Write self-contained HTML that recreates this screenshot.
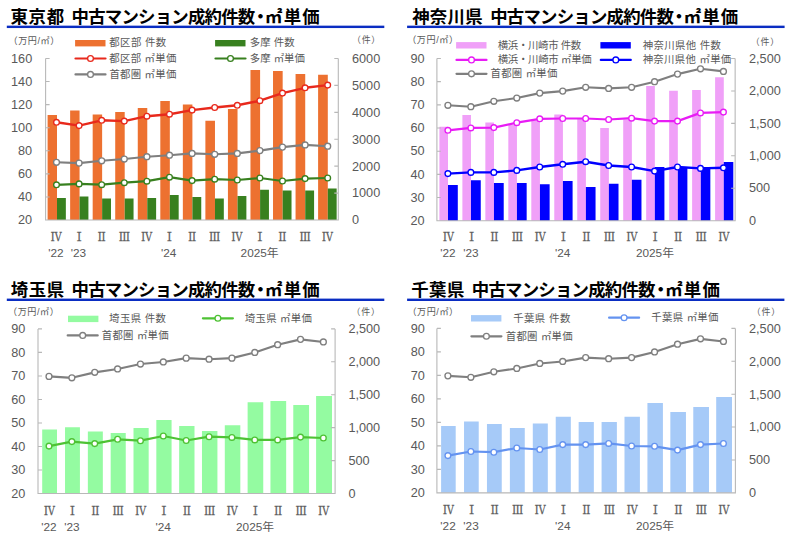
<!DOCTYPE html>
<html lang="ja"><head><meta charset="utf-8"><title>中古マンション成約件数・㎡単価</title><style>html,body{margin:0;padding:0;background:#fff;font-family:"Liberation Sans",sans-serif}svg{display:block}svg text{font-family:"Liberation Sans","Noto Sans CJK JP",sans-serif}svg .rn text{font-family:"Liberation Serif","Noto Serif CJK SC",serif}</style></head><body><svg role="img" aria-label="中古マンション成約件数・㎡単価 (東京都・神奈川県・埼玉県・千葉県)" width="790" height="541" viewBox="0 0 790 541"><desc>東京都 / 神奈川県 / 埼玉県 / 千葉県 中古マンション成約件数・㎡単価 （万円/㎡）（件） 2022-2025年</desc>
<g fill="#000" font-size="17.4" font-weight="bold">
<text x="10.52" y="23.05" textLength="53.6">東京都</text>
<text x="71.58" y="23.05" textLength="183.7">中古マンション成約件数</text>
<text x="251.7" y="23.05">・</text>
<text x="265.05" y="23.05" textLength="54.6">㎡単価</text>
</g>
<rect x="6.8" y="25.65" width="377.5" height="2.4" fill="#0a2dc2"/>
<g fill="#000" font-size="17.4" font-weight="bold">
<text x="412.13" y="23.05" textLength="70.6">神奈川県</text>
<text x="490.18" y="23.05" textLength="183.7">中古マンション成約件数</text>
<text x="670.3" y="23.05">・</text>
<text x="683.65" y="23.05" textLength="54.6">㎡単価</text>
</g>
<rect x="407.1" y="25.65" width="377.5" height="2.4" fill="#0a2dc2"/>
<g fill="#000" font-size="17.4" font-weight="bold">
<text x="10.65" y="296.05" textLength="53.5">埼玉県</text>
<text x="71.58" y="296.05" textLength="183.7">中古マンション成約件数</text>
<text x="251.7" y="296.05">・</text>
<text x="265.05" y="296.05" textLength="54.6">㎡単価</text>
</g>
<rect x="6.8" y="298.6" width="377.5" height="2.4" fill="#0a2dc2"/>
<g fill="#000" font-size="17.4" font-weight="bold">
<text x="411.17" y="296.05" textLength="53.2">千葉県</text>
<text x="471.78" y="296.05" textLength="183.7">中古マンション成約件数</text>
<text x="651.9" y="296.05">・</text>
<text x="665.25" y="296.05" textLength="54.6">㎡単価</text>
</g>
<rect x="407.1" y="298.6" width="377.3" height="2.4" fill="#0a2dc2"/>
<path d="M47.6 220H57V115.1H47.6ZM70.14 220H79.57V110.6H70.14ZM92.68 220H102.13V114.4H92.68ZM115.22 220H124.7V112.1H115.22ZM137.77 220H147.27V108H137.77ZM160.31 220H169.83V101H160.31ZM182.85 220H192.4V104.4H182.85ZM205.39 220H214.97V120.8H205.39ZM227.93 220H237.53V108.9H227.93ZM250.47 220H260.1V69.9H250.47ZM273.02 220H282.67V71.1H273.02ZM295.56 220H305.23V74H295.56ZM318.1 220H327.8V74.7H318.1Z" fill="#ed7130"/>
<path d="M57 220H65.85V197.9H57ZM79.57 220H88.42V196.5H79.57ZM102.13 220H110.98V198.5H102.13ZM124.7 220H133.55V198.6H124.7ZM147.27 220H156.12V197.9H147.27ZM169.83 220H178.68V195.1H169.83ZM192.4 220H201.25V197.1H192.4ZM214.97 220H223.82V198.6H214.97ZM237.53 220H246.38V195.9H237.53ZM260.1 220H268.95V189.8H260.1ZM282.67 220H291.52V190.6H282.67ZM305.23 220H314.08V190.6H305.23ZM327.8 220H336.65V188.6H327.8Z" fill="#38801f"/>
<path d="M45.6 58.5V220H338.3V58.5M45.6 196.93h4M45.6 173.86h4M45.6 150.79h4M45.6 127.71h4M45.6 104.64h4M45.6 81.57h4M45.6 58.5h4M338.3 193.08h-4M338.3 166.17h-4M338.3 139.25h-4M338.3 112.33h-4M338.3 85.42h-4M338.3 58.5h-4" fill="none" stroke="#b8b8b8" stroke-width="1.1"/>
<g stroke="#e8291c"><polyline points="56.5,122.3 79.1,125.6 101.7,120.3 124.3,121.1 146.9,116.2 169.5,114.2 192.1,110.1 214.7,107.5 237.3,105.3 259.9,100.7 282.5,93.1 305.1,87.8 327.7,85.1" fill="none" stroke-width="2.4" stroke-linejoin="round" stroke-linecap="round"/>
<g fill="#fff" stroke-width="1.35"><circle cx="56.5" cy="122.3" r="2.85"/><circle cx="79.1" cy="125.6" r="2.85"/><circle cx="101.7" cy="120.3" r="2.85"/><circle cx="124.3" cy="121.1" r="2.85"/><circle cx="146.9" cy="116.2" r="2.85"/><circle cx="169.5" cy="114.2" r="2.85"/><circle cx="192.1" cy="110.1" r="2.85"/><circle cx="214.7" cy="107.5" r="2.85"/><circle cx="237.3" cy="105.3" r="2.85"/><circle cx="259.9" cy="100.7" r="2.85"/><circle cx="282.5" cy="93.1" r="2.85"/><circle cx="305.1" cy="87.8" r="2.85"/><circle cx="327.7" cy="85.1" r="2.85"/></g></g>
<g stroke="#38801f"><polyline points="56.5,184.8 79.1,183.9 101.7,184.7 124.3,182.7 146.9,181.2 169.5,177.2 192.1,180.6 214.7,179.2 237.3,180 259.9,178 282.5,181 305.1,178.6 327.7,178" fill="none" stroke-width="2.2" stroke-linejoin="round" stroke-linecap="round"/>
<g fill="#fff" stroke-width="1.35"><circle cx="56.5" cy="184.8" r="2.85"/><circle cx="79.1" cy="183.9" r="2.85"/><circle cx="101.7" cy="184.7" r="2.85"/><circle cx="124.3" cy="182.7" r="2.85"/><circle cx="146.9" cy="181.2" r="2.85"/><circle cx="169.5" cy="177.2" r="2.85"/><circle cx="192.1" cy="180.6" r="2.85"/><circle cx="214.7" cy="179.2" r="2.85"/><circle cx="237.3" cy="180" r="2.85"/><circle cx="259.9" cy="178" r="2.85"/><circle cx="282.5" cy="181" r="2.85"/><circle cx="305.1" cy="178.6" r="2.85"/><circle cx="327.7" cy="178" r="2.85"/></g></g>
<g stroke="#7f7f7f"><polyline points="56.5,162.3 79.1,163.1 101.7,160.8 124.3,159 146.9,156.7 169.5,155.2 192.1,153.4 214.7,154.3 237.3,153.4 259.9,150.6 282.5,147.1 305.1,144.9 327.7,146.2" fill="none" stroke-width="2.15" stroke-linejoin="round" stroke-linecap="round"/>
<g fill="#fff" stroke-width="1.35"><circle cx="56.5" cy="162.3" r="2.95"/><circle cx="79.1" cy="163.1" r="2.95"/><circle cx="101.7" cy="160.8" r="2.95"/><circle cx="124.3" cy="159" r="2.95"/><circle cx="146.9" cy="156.7" r="2.95"/><circle cx="169.5" cy="155.2" r="2.95"/><circle cx="192.1" cy="153.4" r="2.95"/><circle cx="214.7" cy="154.3" r="2.95"/><circle cx="237.3" cy="153.4" r="2.95"/><circle cx="259.9" cy="150.6" r="2.95"/><circle cx="282.5" cy="147.1" r="2.95"/><circle cx="305.1" cy="144.9" r="2.95"/><circle cx="327.7" cy="146.2" r="2.95"/></g></g>
<g fill="#595959">
<g font-size="12.7" text-anchor="end">
<text x="32.2" y="224.4">20</text>
<text x="32.2" y="201.33">40</text>
<text x="32.2" y="178.26">60</text>
<text x="32.2" y="155.19">80</text>
<text x="32.2" y="132.11">100</text>
<text x="32.2" y="109.04">120</text>
<text x="32.2" y="85.97">140</text>
<text x="32.2" y="62.9">160</text>
</g>
<g font-size="12.7">
<text x="352" y="224.4">0</text>
<text x="352" y="197.48">1000</text>
<text x="352" y="170.57">2000</text>
<text x="352" y="143.65">3000</text>
<text x="352" y="116.73">4000</text>
<text x="352" y="89.82">5000</text>
<text x="352" y="62.9">6000</text>
</g>
<g class="rn" font-size="11.3" text-anchor="middle" stroke="#595959" stroke-width="0.3" stroke-linejoin="round">
<text x="56.47" y="241.1">Ⅳ</text>
<text x="79.1" y="241.1">Ⅰ</text>
<text x="101.7" y="241.1">Ⅱ</text>
<text x="124.3" y="241.1">Ⅲ</text>
<text x="146.87" y="241.1">Ⅳ</text>
<text x="169.5" y="241.1">Ⅰ</text>
<text x="192.1" y="241.1">Ⅱ</text>
<text x="214.7" y="241.1">Ⅲ</text>
<text x="237.27" y="241.1">Ⅳ</text>
<text x="259.9" y="241.1">Ⅰ</text>
<text x="282.5" y="241.1">Ⅱ</text>
<text x="305.1" y="241.1">Ⅲ</text>
<text x="327.67" y="241.1">Ⅳ</text>
</g>
<g font-size="11.8">
<text x="48.16" y="257.3">'22</text>
<text x="70.8" y="257.3">'23</text>
<text x="161.05" y="257.3">'24</text>
<text x="240.58" y="257.3">2025年</text>
</g>
<text x="8.5" y="43.5" font-size="9.1" textLength="50.8">（万円/㎡）</text>
<text x="351.94" y="42.7" font-size="8.9" textLength="28.3">（件）</text>
<g font-size="10.4">
<text x="109.32" y="46.4" textLength="56.8">都区部 件数</text>
<text x="109.32" y="61.7" textLength="67">都区部 ㎡単価</text>
<text x="109.47" y="77.6" textLength="66.8">首都圏 ㎡単価</text>
<text x="249.68" y="46.4" textLength="44.9">多摩 件数</text>
<text x="249.68" y="61.7" textLength="55.3">多摩 ㎡単価</text>
</g>
</g>
<rect x="75.1" y="40" width="30.4" height="6.4" fill="#ed7130"/>
<g stroke="#e8291c"><path d="M75.5 58.5h30" stroke-width="2.2" stroke-linecap="round" fill="none"/><circle cx="90.5" cy="58.5" r="2.9" fill="#fff" stroke-width="1.35"/></g>
<g stroke="#7f7f7f"><path d="M75.5 74.4h30" stroke-width="2.2" stroke-linecap="round" fill="none"/><circle cx="90.5" cy="74.4" r="2.9" fill="#fff" stroke-width="1.35"/></g>
<rect x="215.1" y="40" width="30.4" height="6.4" fill="#38801f"/>
<g stroke="#38801f"><path d="M215.5 58.5h30" stroke-width="2.2" stroke-linecap="round" fill="none"/><circle cx="230.5" cy="58.5" r="2.9" fill="#fff" stroke-width="1.35"/></g>
<path d="M439.4 220.7H448V126.8H439.4ZM462.38 220.7H470.98V115.1H462.38ZM485.35 220.7H493.97V122.6H485.35ZM508.32 220.7H516.95V125.1H508.32ZM531.3 220.7H539.93V120.5H531.3ZM554.27 220.7H562.92V114.4H554.27ZM577.25 220.7H585.9V118.8H577.25ZM600.23 220.7H608.88V128.1H600.23ZM623.2 220.7H631.87V119.5H623.2ZM646.17 220.7H654.85V86.1H646.17ZM669.15 220.7H677.83V90.8H669.15ZM692.12 220.7H700.82V90.1H692.12ZM715.1 220.7H723.8V77.3H715.1Z" fill="#f0a0f8"/>
<path d="M448 220.7H457.8V185H448ZM470.98 220.7H480.76V180.3H470.98ZM493.97 220.7H503.72V183.1H493.97ZM516.95 220.7H526.67V183.1H516.95ZM539.93 220.7H549.63V184.2H539.93ZM562.92 220.7H572.59V180.9H562.92ZM585.9 220.7H595.55V187.1H585.9ZM608.88 220.7H618.51V183.7H608.88ZM631.87 220.7H641.47V179.8H631.87ZM654.85 220.7H664.42V167H654.85ZM677.83 220.7H687.38V167.3H677.83ZM700.82 220.7H710.34V167H700.82ZM723.8 220.7H733.3V162H723.8Z" fill="#0000ff"/>
<path d="M436.9 58.5V220.7H735.15V58.5M436.9 197.53h4M436.9 174.36h4M436.9 151.19h4M436.9 128.01h4M436.9 104.84h4M436.9 81.67h4M436.9 58.5h4M735.15 188.26h-4M735.15 155.82h-4M735.15 123.38h-4M735.15 90.94h-4M735.15 58.5h-4" fill="none" stroke="#b8b8b8" stroke-width="1.1"/>
<g stroke="#e81cf5"><polyline points="447.9,130.3 470.86,127.9 493.83,127.6 516.79,122.7 539.75,118.8 562.71,118.5 585.67,118.5 608.64,119.5 631.6,118.2 654.56,121.1 677.52,121.1 700.49,112.9 723.45,112.1" fill="none" stroke-width="2.2" stroke-linejoin="round" stroke-linecap="round"/>
<g fill="#fff" stroke-width="1.35"><circle cx="447.9" cy="130.3" r="2.85"/><circle cx="470.86" cy="127.9" r="2.85"/><circle cx="493.83" cy="127.6" r="2.85"/><circle cx="516.79" cy="122.7" r="2.85"/><circle cx="539.75" cy="118.8" r="2.85"/><circle cx="562.71" cy="118.5" r="2.85"/><circle cx="585.67" cy="118.5" r="2.85"/><circle cx="608.64" cy="119.5" r="2.85"/><circle cx="631.6" cy="118.2" r="2.85"/><circle cx="654.56" cy="121.1" r="2.85"/><circle cx="677.52" cy="121.1" r="2.85"/><circle cx="700.49" cy="112.9" r="2.85"/><circle cx="723.45" cy="112.1" r="2.85"/></g></g>
<g stroke="#0000ff"><polyline points="447.9,173.6 470.86,172.4 493.83,172.4 516.79,170.4 539.75,167 562.71,164.3 585.67,161.7 608.64,165.5 631.6,167 654.56,171.1 677.52,167 700.49,168.4 723.45,167.8" fill="none" stroke-width="2.4" stroke-linejoin="round" stroke-linecap="round"/>
<g fill="#fff" stroke-width="1.35"><circle cx="447.9" cy="173.6" r="2.85"/><circle cx="470.86" cy="172.4" r="2.85"/><circle cx="493.83" cy="172.4" r="2.85"/><circle cx="516.79" cy="170.4" r="2.85"/><circle cx="539.75" cy="167" r="2.85"/><circle cx="562.71" cy="164.3" r="2.85"/><circle cx="585.67" cy="161.7" r="2.85"/><circle cx="608.64" cy="165.5" r="2.85"/><circle cx="631.6" cy="167" r="2.85"/><circle cx="654.56" cy="171.1" r="2.85"/><circle cx="677.52" cy="167" r="2.85"/><circle cx="700.49" cy="168.4" r="2.85"/><circle cx="723.45" cy="167.8" r="2.85"/></g></g>
<g stroke="#7f7f7f"><polyline points="447.9,105.3 470.86,106.7 493.83,101.3 516.79,98 539.75,93.1 562.71,91.1 585.67,87.3 608.64,88.4 631.6,87.3 654.56,81.7 677.52,74.1 700.49,68.8 723.45,71.4" fill="none" stroke-width="2.15" stroke-linejoin="round" stroke-linecap="round"/>
<g fill="#fff" stroke-width="1.35"><circle cx="447.9" cy="105.3" r="2.95"/><circle cx="470.86" cy="106.7" r="2.95"/><circle cx="493.83" cy="101.3" r="2.95"/><circle cx="516.79" cy="98" r="2.95"/><circle cx="539.75" cy="93.1" r="2.95"/><circle cx="562.71" cy="91.1" r="2.95"/><circle cx="585.67" cy="87.3" r="2.95"/><circle cx="608.64" cy="88.4" r="2.95"/><circle cx="631.6" cy="87.3" r="2.95"/><circle cx="654.56" cy="81.7" r="2.95"/><circle cx="677.52" cy="74.1" r="2.95"/><circle cx="700.49" cy="68.8" r="2.95"/><circle cx="723.45" cy="71.4" r="2.95"/></g></g>
<g fill="#595959">
<g font-size="12.7" text-anchor="end">
<text x="424.6" y="224.9">20</text>
<text x="424.6" y="201.73">30</text>
<text x="424.6" y="178.56">40</text>
<text x="424.6" y="155.39">50</text>
<text x="424.6" y="132.21">60</text>
<text x="424.6" y="109.04">70</text>
<text x="424.6" y="85.87">80</text>
<text x="424.6" y="62.7">90</text>
</g>
<g font-size="12.7">
<text x="749" y="224.9">0</text>
<text x="749" y="192.46">500</text>
<text x="749" y="160.02">1,000</text>
<text x="749" y="127.58">1,500</text>
<text x="749" y="95.14">2,000</text>
<text x="749" y="62.7">2,500</text>
</g>
<g class="rn" font-size="11.3" text-anchor="middle" stroke="#595959" stroke-width="0.3" stroke-linejoin="round">
<text x="448.57" y="241.1">Ⅳ</text>
<text x="471.56" y="241.1">Ⅰ</text>
<text x="494.53" y="241.1">Ⅱ</text>
<text x="517.49" y="241.1">Ⅲ</text>
<text x="540.42" y="241.1">Ⅳ</text>
<text x="563.41" y="241.1">Ⅰ</text>
<text x="586.37" y="241.1">Ⅱ</text>
<text x="609.34" y="241.1">Ⅲ</text>
<text x="632.27" y="241.1">Ⅳ</text>
<text x="655.26" y="241.1">Ⅰ</text>
<text x="678.22" y="241.1">Ⅱ</text>
<text x="701.19" y="241.1">Ⅲ</text>
<text x="724.12" y="241.1">Ⅳ</text>
</g>
<g font-size="11.8">
<text x="440.27" y="257.3">'22</text>
<text x="463.26" y="257.3">'23</text>
<text x="554.97" y="257.3">'24</text>
<text x="635.94" y="257.3">2025年</text>
</g>
<text x="407.2" y="43.4" font-size="9.1" textLength="50.8">（万円/㎡）</text>
<text x="750.74" y="45" font-size="8.9" textLength="28.3">（件）</text>
<g font-size="10.4">
<text x="497.75" y="48.5" textLength="83.5">横浜・川崎市 件数</text>
<text x="497.75" y="63.1" textLength="93.9">横浜・川崎市 ㎡単価</text>
<text x="490.47" y="77" textLength="66.9">首都圏 ㎡単価</text>
<text x="642.63" y="48.5" textLength="78.2">神奈川県他 件数</text>
<text x="642.63" y="63.1" textLength="88.6">神奈川県他 ㎡単価</text>
</g>
</g>
<rect x="456.1" y="42.1" width="30.4" height="6.4" fill="#f0a0f8"/>
<g stroke="#e81cf5"><path d="M456.5 59.9h30" stroke-width="2.2" stroke-linecap="round" fill="none"/><circle cx="471.5" cy="59.9" r="2.9" fill="#fff" stroke-width="1.35"/></g>
<g stroke="#7f7f7f"><path d="M456.5 73.8h30" stroke-width="2.2" stroke-linecap="round" fill="none"/><circle cx="471.5" cy="73.8" r="2.9" fill="#fff" stroke-width="1.35"/></g>
<rect x="600.4" y="42.1" width="30.4" height="6.4" fill="#0000ff"/>
<g stroke="#0000ff"><path d="M600.8 59.9h30" stroke-width="2.2" stroke-linecap="round" fill="none"/><circle cx="615.8" cy="59.9" r="2.9" fill="#fff" stroke-width="1.35"/></g>
<path d="M42.2 493.5H57V429.4H42.2ZM65.03 493.5H79.92V427.2H65.03ZM87.85 493.5H102.83V431.4H87.85ZM110.68 493.5H125.75V432.9H110.68ZM133.5 493.5H148.67V428.1H133.5ZM156.33 493.5H171.58V420H156.33ZM179.15 493.5H194.5V425.9H179.15ZM201.98 493.5H217.42V431H201.98ZM224.8 493.5H240.33V425.3H224.8ZM247.62 493.5H263.25V402.2H247.62ZM270.45 493.5H286.17V401H270.45ZM293.28 493.5H309.08V405H293.28ZM316.1 493.5H332V395.9H316.1Z" fill="#94fba1"/>
<path d="M38 328.9V493.5H335.1V328.9M38 469.99h4M38 446.47h4M38 422.96h4M38 399.44h4M38 375.93h4M38 352.41h4M38 328.9h4M335.1 460.58h-4M335.1 427.66h-4M335.1 394.74h-4M335.1 361.82h-4M335.1 328.9h-4" fill="none" stroke="#b8b8b8" stroke-width="1.1"/>
<g stroke="#4ec234"><polyline points="49,446.1 71.87,441.6 94.73,443.6 117.59,439.3 140.46,440.7 163.32,436 186.19,440.5 209.05,436.7 231.91,437.4 254.78,439.9 277.64,439.9 300.5,437.1 323.37,438" fill="none" stroke-width="2.2" stroke-linejoin="round" stroke-linecap="round"/>
<g fill="#fff" stroke-width="1.35"><circle cx="49" cy="446.1" r="2.85"/><circle cx="71.87" cy="441.6" r="2.85"/><circle cx="94.73" cy="443.6" r="2.85"/><circle cx="117.59" cy="439.3" r="2.85"/><circle cx="140.46" cy="440.7" r="2.85"/><circle cx="163.32" cy="436" r="2.85"/><circle cx="186.19" cy="440.5" r="2.85"/><circle cx="209.05" cy="436.7" r="2.85"/><circle cx="231.91" cy="437.4" r="2.85"/><circle cx="254.78" cy="439.9" r="2.85"/><circle cx="277.64" cy="439.9" r="2.85"/><circle cx="300.5" cy="437.1" r="2.85"/><circle cx="323.37" cy="438" r="2.85"/></g></g>
<g stroke="#7f7f7f"><polyline points="49,376.39 71.87,377.81 94.73,372.33 117.59,368.98 140.46,364.01 163.32,361.98 186.19,358.13 209.05,359.24 231.91,358.13 254.78,352.44 277.64,344.73 300.5,339.35 323.37,341.99" fill="none" stroke-width="2.15" stroke-linejoin="round" stroke-linecap="round"/>
<g fill="#fff" stroke-width="1.35"><circle cx="49" cy="376.39" r="2.95"/><circle cx="71.87" cy="377.81" r="2.95"/><circle cx="94.73" cy="372.33" r="2.95"/><circle cx="117.59" cy="368.98" r="2.95"/><circle cx="140.46" cy="364.01" r="2.95"/><circle cx="163.32" cy="361.98" r="2.95"/><circle cx="186.19" cy="358.13" r="2.95"/><circle cx="209.05" cy="359.24" r="2.95"/><circle cx="231.91" cy="358.13" r="2.95"/><circle cx="254.78" cy="352.44" r="2.95"/><circle cx="277.64" cy="344.73" r="2.95"/><circle cx="300.5" cy="339.35" r="2.95"/><circle cx="323.37" cy="341.99" r="2.95"/></g></g>
<g fill="#595959">
<g font-size="12.7" text-anchor="end">
<text x="25.3" y="497.9">20</text>
<text x="25.3" y="474.39">30</text>
<text x="25.3" y="450.87">40</text>
<text x="25.3" y="427.36">50</text>
<text x="25.3" y="403.84">60</text>
<text x="25.3" y="380.33">70</text>
<text x="25.3" y="356.81">80</text>
<text x="25.3" y="333.3">90</text>
</g>
<g font-size="12.7">
<text x="348.4" y="497.9">0</text>
<text x="348.4" y="464.98">500</text>
<text x="348.4" y="432.06">1,000</text>
<text x="348.4" y="399.14">1,500</text>
<text x="348.4" y="366.22">2,000</text>
<text x="348.4" y="333.3">2,500</text>
</g>
<g class="rn" font-size="11.3" text-anchor="middle" stroke="#595959" stroke-width="0.3" stroke-linejoin="round">
<text x="49.57" y="515.05">Ⅳ</text>
<text x="72.47" y="515.05">Ⅰ</text>
<text x="95.33" y="515.05">Ⅱ</text>
<text x="118.19" y="515.05">Ⅲ</text>
<text x="141.02" y="515.05">Ⅳ</text>
<text x="163.92" y="515.05">Ⅰ</text>
<text x="186.79" y="515.05">Ⅱ</text>
<text x="209.65" y="515.05">Ⅲ</text>
<text x="232.48" y="515.05">Ⅳ</text>
<text x="255.38" y="515.05">Ⅰ</text>
<text x="278.24" y="515.05">Ⅱ</text>
<text x="301.1" y="515.05">Ⅲ</text>
<text x="323.93" y="515.05">Ⅳ</text>
</g>
<g font-size="11.8">
<text x="41.27" y="531.25">'22</text>
<text x="64.17" y="531.25">'23</text>
<text x="155.47" y="531.25">'24</text>
<text x="236.05" y="531.25">2025年</text>
</g>
<text x="8" y="315.1" font-size="9.1" textLength="50.8">（万円/㎡）</text>
<text x="351.54" y="315.2" font-size="8.9" textLength="28.3">（件）</text>
<g font-size="10.4">
<text x="109.1" y="322.1" textLength="56.9">埼玉県 件数</text>
<text x="101.77" y="338.6" textLength="66.8">首都圏 ㎡単価</text>
<text x="244.8" y="321.5" textLength="67.1">埼玉県 ㎡単価</text>
</g>
</g>
<rect x="68" y="315.7" width="30.4" height="6.4" fill="#94fba1"/>
<g stroke="#7f7f7f"><path d="M67.7 335.4h30" stroke-width="2.2" stroke-linecap="round" fill="none"/><circle cx="82.7" cy="335.4" r="2.9" fill="#fff" stroke-width="1.35"/></g>
<g stroke="#4ec234"><path d="M202.9 318.3h30" stroke-width="2.2" stroke-linecap="round" fill="none"/><circle cx="217.9" cy="318.3" r="2.9" fill="#fff" stroke-width="1.35"/></g>
<path d="M441.1 492.85H455.7V425.9H441.1ZM464.03 492.85H478.72V421.4H464.03ZM486.95 492.85H501.75V424.1H486.95ZM509.88 492.85H524.77V428.1H509.88ZM532.8 492.85H547.8V423.4H532.8ZM555.73 492.85H570.83V416.8H555.73ZM578.65 492.85H593.85V422H578.65ZM601.58 492.85H616.88V422H601.58ZM624.5 492.85H639.9V416.8H624.5ZM647.43 492.85H662.92V402.9H647.43ZM670.35 492.85H685.95V412H670.35ZM693.28 492.85H708.98V406.9H693.28ZM716.2 492.85H732V396.9H716.2Z" fill="#a6caf8"/>
<path d="M436.9 328.4V492.85H735.4V328.4M436.9 469.36h4M436.9 445.86h4M436.9 422.37h4M436.9 398.88h4M436.9 375.39h4M436.9 351.89h4M436.9 328.4h4M735.4 459.96h-4M735.4 427.07h-4M735.4 394.18h-4M735.4 361.29h-4M735.4 328.4h-4" fill="none" stroke="#b8b8b8" stroke-width="1.1"/>
<g stroke="#6493f0"><polyline points="447.9,455.6 470.86,451.5 493.83,452.2 516.79,448 539.75,449.5 562.71,444.6 585.67,444.6 608.64,443.4 631.6,446 654.56,446.3 677.52,450.1 700.49,444.6 723.45,443.5" fill="none" stroke-width="2.2" stroke-linejoin="round" stroke-linecap="round"/>
<g fill="#fff" stroke-width="1.35"><circle cx="447.9" cy="455.6" r="2.85"/><circle cx="470.86" cy="451.5" r="2.85"/><circle cx="493.83" cy="452.2" r="2.85"/><circle cx="516.79" cy="448" r="2.85"/><circle cx="539.75" cy="449.5" r="2.85"/><circle cx="562.71" cy="444.6" r="2.85"/><circle cx="585.67" cy="444.6" r="2.85"/><circle cx="608.64" cy="443.4" r="2.85"/><circle cx="631.6" cy="446" r="2.85"/><circle cx="654.56" cy="446.3" r="2.85"/><circle cx="677.52" cy="450.1" r="2.85"/><circle cx="700.49" cy="444.6" r="2.85"/><circle cx="723.45" cy="443.5" r="2.85"/></g></g>
<g stroke="#7f7f7f"><polyline points="447.9,375.85 470.86,377.27 493.83,371.79 516.79,368.45 539.75,363.48 562.71,361.45 585.67,357.6 608.64,358.71 631.6,357.6 654.56,351.92 677.52,344.22 700.49,338.84 723.45,341.48" fill="none" stroke-width="2.15" stroke-linejoin="round" stroke-linecap="round"/>
<g fill="#fff" stroke-width="1.35"><circle cx="447.9" cy="375.85" r="2.95"/><circle cx="470.86" cy="377.27" r="2.95"/><circle cx="493.83" cy="371.79" r="2.95"/><circle cx="516.79" cy="368.45" r="2.95"/><circle cx="539.75" cy="363.48" r="2.95"/><circle cx="562.71" cy="361.45" r="2.95"/><circle cx="585.67" cy="357.6" r="2.95"/><circle cx="608.64" cy="358.71" r="2.95"/><circle cx="631.6" cy="357.6" r="2.95"/><circle cx="654.56" cy="351.92" r="2.95"/><circle cx="677.52" cy="344.22" r="2.95"/><circle cx="700.49" cy="338.84" r="2.95"/><circle cx="723.45" cy="341.48" r="2.95"/></g></g>
<g fill="#595959">
<g font-size="12.7" text-anchor="end">
<text x="424.9" y="497.25">20</text>
<text x="424.9" y="473.76">30</text>
<text x="424.9" y="450.26">40</text>
<text x="424.9" y="426.77">50</text>
<text x="424.9" y="403.28">60</text>
<text x="424.9" y="379.79">70</text>
<text x="424.9" y="356.29">80</text>
<text x="424.9" y="332.8">90</text>
</g>
<g font-size="12.7">
<text x="749" y="497.25">0</text>
<text x="749" y="464.36">500</text>
<text x="749" y="431.47">1,000</text>
<text x="749" y="398.58">1,500</text>
<text x="749" y="365.69">2,000</text>
<text x="749" y="332.8">2,500</text>
</g>
<g class="rn" font-size="11.3" text-anchor="middle" stroke="#595959" stroke-width="0.3" stroke-linejoin="round">
<text x="448.67" y="514.25">Ⅳ</text>
<text x="471.66" y="514.25">Ⅰ</text>
<text x="494.63" y="514.25">Ⅱ</text>
<text x="517.59" y="514.25">Ⅲ</text>
<text x="540.52" y="514.25">Ⅳ</text>
<text x="563.51" y="514.25">Ⅰ</text>
<text x="586.47" y="514.25">Ⅱ</text>
<text x="609.44" y="514.25">Ⅲ</text>
<text x="632.37" y="514.25">Ⅳ</text>
<text x="655.36" y="514.25">Ⅰ</text>
<text x="678.32" y="514.25">Ⅱ</text>
<text x="701.29" y="514.25">Ⅲ</text>
<text x="724.22" y="514.25">Ⅳ</text>
</g>
<g font-size="11.8">
<text x="440.37" y="530.45">'22</text>
<text x="463.36" y="530.45">'23</text>
<text x="555.07" y="530.45">'24</text>
<text x="636.04" y="530.45">2025年</text>
</g>
<text x="407.4" y="315.3" font-size="9.1" textLength="50.8">（万円/㎡）</text>
<text x="751.84" y="315.2" font-size="8.9" textLength="28.3">（件）</text>
<g font-size="10.4">
<text x="513.19" y="321.5" textLength="57.1">千葉県 件数</text>
<text x="505.77" y="339.5" textLength="66.8">首都圏 ㎡単価</text>
<text x="651.19" y="320.9" textLength="67.3">千葉県 ㎡単価</text>
</g>
</g>
<rect x="471" y="315.1" width="30.4" height="6.4" fill="#a6caf8"/>
<g stroke="#7f7f7f"><path d="M471.4 336.3h30" stroke-width="2.2" stroke-linecap="round" fill="none"/><circle cx="486.4" cy="336.3" r="2.9" fill="#fff" stroke-width="1.35"/></g>
<g stroke="#6493f0"><path d="M609.1 317.7h30" stroke-width="2.2" stroke-linecap="round" fill="none"/><circle cx="624.1" cy="317.7" r="2.9" fill="#fff" stroke-width="1.35"/></g>
</svg></body></html>
